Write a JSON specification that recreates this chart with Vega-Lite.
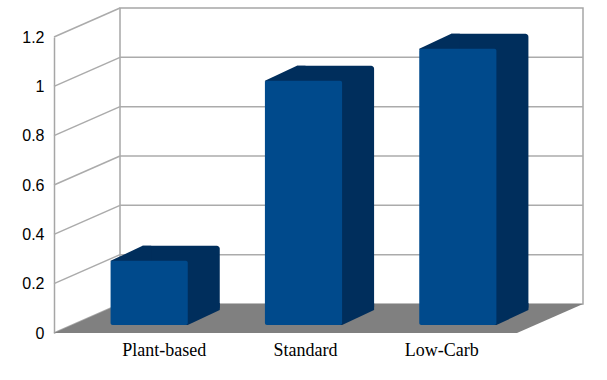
{
  "$schema": "https://vega.github.io/schema/vega-lite/v6.json",
  "width": 463,
  "height": 296,
  "autosize": {"type": "none"},
  "padding": {"left": 54, "top": 37, "right": 90, "bottom": 47},
  "background": "white",
  "config": {
    "view": {"stroke": null},
    "axisX": {"title": null, "domain": false, "ticks": false, "grid": false, "labelAngle": 0, "labelFont": "Liberation Serif", "labelFontSize": 18, "labelColor": "black", "labelPadding": 8,
      "labelOffset": {"condition": [{"test": "datum.value == 'Plant-based'", "value": 33}, {"test": "datum.value == 'Standard'", "value": 20}], "value": 2}},
    "axisY": {"title": null, "values": [0, 0.2, 0.4, 0.6, 0.8, 1, 1.2], "format": "~g", "grid": false, "ticks": false, "domain": true, "domainColor": "#a6a6a6", "domainWidth": 1.5, "labelFont": "Liberation Sans", "labelFontSize": 16, "labelColor": "black", "labelPadding": 10}
  },
  "datasets": {
    "diets": [
      {"diet": "Plant-based", "value": 0.26},
      {"diet": "Standard", "value": 0.99},
      {"diet": "Low-Carb", "value": 1.12}
    ],
    "ticks": [
      {"v": 0}, {"v": 0.2}, {"v": 0.4}, {"v": 0.6}, {"v": 0.8}, {"v": 1.0}, {"v": 1.2}
    ]
  },
  "layer": [
    {
      "data": {"values": [{}]},
      "mark": {"type": "rect", "fill": "white", "stroke": "#a6a6a6", "strokeWidth": 1.5, "xOffset": 66, "x2Offset": 66, "yOffset": -29, "y2Offset": -29},
      "encoding": {
        "x": {"value": 0},
        "x2": {"value": "width"},
        "y": {"datum": 1.2, "type": "quantitative", "title": null, "scale": {"domain": [0, 1.2], "nice": false, "zero": true}},
        "y2": {"datum": 0}
      }
    },
    {
      "data": {"name": "ticks"},
      "transform": [{"filter": "datum.v > 0 && datum.v < 1.2"}],
      "mark": {"type": "rule", "stroke": "#ababab", "strokeWidth": 1.5, "xOffset": 66, "x2Offset": 66, "yOffset": -29},
      "encoding": {
        "x": {"value": 0},
        "x2": {"value": "width"},
        "y": {"field": "v", "type": "quantitative", "title": null}
      }
    },
    {
      "data": {"name": "ticks"},
      "mark": {"type": "rule", "stroke": "#ababab", "strokeWidth": 1.5, "x2Offset": 66, "y2Offset": -29},
      "encoding": {
        "x": {"value": 0},
        "x2": {"value": 0},
        "y": {"field": "v", "type": "quantitative", "title": null},
        "y2": {"field": "v"}
      }
    },
    {
      "data": {"values": [{}]},
      "mark": {"type": "point", "filled": true, "opacity": 1, "fill": "#808080", "strokeWidth": 0, "size": 4, "shape": "M0,0 L463,0 L529,-29 L66,-29 Z"},
      "encoding": {
        "x": {"value": 0},
        "y": {"datum": 0, "type": "quantitative", "title": null}
      }
    },
    {
      "data": {"name": "diets"},
      "mark": {"type": "rect", "color": "#002e5c", "xOffset": 50, "x2Offset": 50, "yOffset": -23, "y2Offset": -23, "cornerRadiusTopRight": 3, "cornerRadiusBottomRight": 3},
      "encoding": {
        "x": {"field": "diet", "type": "nominal", "title": null, "sort": ["Plant-based", "Standard", "Low-Carb"], "scale": {"paddingInner": 0.5, "paddingOuter": 0.25}},
        "y": {"field": "value", "type": "quantitative", "title": null},
        "y2": {"datum": 0}
      }
    },
    {
      "data": {"name": "diets"},
      "mark": {"type": "point", "filled": true, "opacity": 1, "fill": "#002e5c", "strokeWidth": 0, "size": 4, "shape": "M-20.6,-7 L-20.6,-8 L11.4,-23 L20,-23 L20,-7 Z"},
      "encoding": {
        "x": {"field": "diet", "type": "nominal", "title": null, "sort": ["Plant-based", "Standard", "Low-Carb"]},
        "y": {"field": "value", "type": "quantitative", "title": null}
      }
    },
    {
      "data": {"name": "diets"},
      "mark": {"type": "point", "filled": true, "opacity": 1, "fill": "#002e5c", "strokeWidth": 0, "size": 4, "shape": "M50,-8 L56.6,-8 L88.6,-23 L88.6,-30 L50,-30 Z"},
      "encoding": {
        "x": {"field": "diet", "type": "nominal", "title": null, "sort": ["Plant-based", "Standard", "Low-Carb"]},
        "y": {"datum": 0, "type": "quantitative", "title": null}
      }
    },
    {
      "data": {"name": "diets"},
      "mark": {"type": "rect", "color": "#004a8c", "xOffset": 18, "x2Offset": 18, "yOffset": -8, "y2Offset": -8, "cornerRadius": 2},
      "encoding": {
        "x": {"field": "diet", "type": "nominal", "title": null, "sort": ["Plant-based", "Standard", "Low-Carb"]},
        "y": {"field": "value", "type": "quantitative", "title": null},
        "y2": {"datum": 0}
      }
    }
  ]
}
